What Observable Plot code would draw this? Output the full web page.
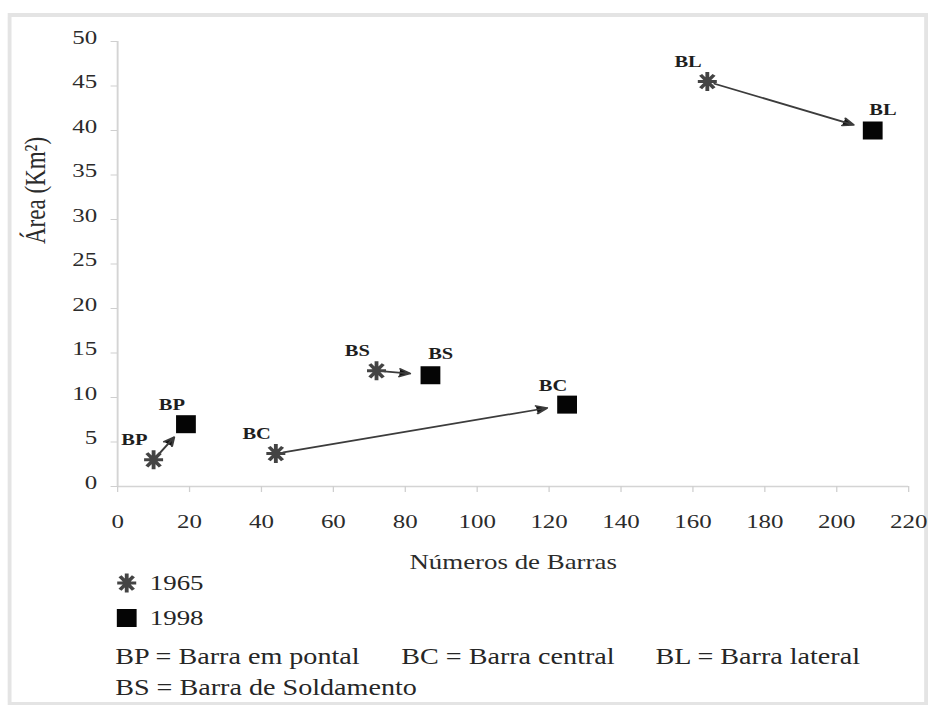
<!DOCTYPE html>
<html>
<head>
<meta charset="utf-8">
<script src="https://cdn.jsdelivr.net/npm/d3@7"></script>
<script src="https://cdn.jsdelivr.net/npm/@observablehq/plot@0.6"></script>
<style>
  html, body { margin: 0; padding: 0; background: #fff; width: 935px; height: 717px; overflow: hidden; }
  /* the whole figure is laid out on a narrower sheet and widened horizontally */
  #page { position: absolute; left: 0; top: 0; width: 730.5px; height: 717px;
          transform: scaleX(1.28); transform-origin: 0 0;
          font-family: "Liberation Serif", "Times New Roman", serif; color: #262626; }
  #frame { position: absolute; left: 6px; top: 13px; width: 719px; height: 692px;
           box-sizing: border-box; border: 3px solid #e4e4e4; border-top-width: 4px; }
  #chart { position: absolute; left: 0; top: 0; }
  .key { position: absolute; left: 88px; height: 24px; line-height: 24px; font-size: 21px; white-space: nowrap; }
  .key svg { position: absolute; left: 0; top: 0; overflow: visible; }
  .key span { position: absolute; left: 29px; top: 0; }
  .note { position: absolute; left: 90px; height: 26px; line-height: 26px; font-size: 23px; white-space: nowrap;
          transform: scaleX(0.955); transform-origin: 0 50%; }
  .note span { display: inline-block; }
</style>
</head>
<body>
<div id="page">
  <div id="frame"></div>
  <div id="chart"></div>
  <div class="key" id="key1965" style="top:571px"></div>
  <div class="key" id="key1998" style="top:606px"></div>
  <div class="note" style="top:644px"><span style="width:234px">BP = Barra em pontal</span><span style="width:208px">BC = Barra central</span><span>BL = Barra lateral</span></div>
  <div class="note" style="top:675px"><span>BS = Barra de Soldamento</span></div>
</div>
<script>
// Bar types and their count / area in the two survey years
const categories = ["BP", "BC", "BS", "BL"];
const bars1965 = [10, 44, 72, 164];
const area1965 = [3, 3.7, 13, 45.5];
const bars1998 = [19, 125, 87, 210];
const area1998 = [7, 9.2, 12.5, 40];

const xTicks = [0, 20, 40, 60, 80, 100, 120, 140, 160, 180, 200, 220];
const yTicks = [0, 5, 10, 15, 20, 25, 30, 35, 40, 45, 50];

const rows = categories.map((code, i) => ({
  code,
  x1: bars1965[i], y1: area1965[i],
  x2: bars1998[i], y2: area1998[i]
}));

// glyphs are drawn narrower so they stay square once the sheet is widened
const SX = 1 / 1.28;
const star = {
  draw(ctx, size) {
    const r = Math.sqrt(size / Math.PI);
    for (let k = 0; k < 4; ++k) {
      const a = k * Math.PI / 4;
      const dx = Math.sin(a) * r * SX, dy = Math.cos(a) * r;
      ctx.moveTo(-dx, -dy);
      ctx.lineTo(dx, dy);
    }
  }
};
const square = {
  draw(ctx, size) {
    const r = Math.sqrt(size / Math.PI);
    const w = 2 * r * SX * 1.1, h = 2 * r;
    ctx.rect(-w / 2, -h / 2, w, h);
  }
};

const labelStyle = { text: "code", fontWeight: "bold", fontSize: 16, fill: "#1e1e1e" };

const chart = Plot.plot({
  width: 730,
  height: 580,
  marginLeft: 91.4,
  marginRight: 20.6,
  marginTop: 41,
  marginBottom: 94,
  style: { fontFamily: "'Liberation Serif', 'Times New Roman', serif", fontSize: "19px", color: "#2b2b2b", background: "transparent" },
  x: { domain: [0, 220] },
  y: { domain: [0, 50] },
  marks: [
    // light axis lines
    Plot.ruleY([0], { stroke: "#d4d4d4", strokeWidth: 1.5 }),
    Plot.ruleX([0], { stroke: "#d4d4d4", strokeWidth: 1.5 }),
    Plot.axisX({ ticks: xTicks, tickSize: 6, tickPadding: 22, stroke: "#cfcfcf", fill: "#2b2b2b", fontSize: 19.5, label: null }),
    Plot.axisY({ ticks: yTicks, tickSize: 5, tickFormat: () => "", stroke: "#cfcfcf", label: null }),
    Plot.axisY({ ticks: yTicks, tickSize: 0, tickPadding: 16, dy: -4, fill: "#2b2b2b", fontSize: 19.5, label: null }),
    // axis titles
    Plot.text(["Números de Barras"], { text: d => d, frameAnchor: "bottom", dy: 82, fontSize: 21, fill: "#2b2b2b" }),
    Plot.text(["Área (Km²)"], { text: d => d, frameAnchor: "left", rotate: -90, dx: -64, dy: -20, fontSize: 23, fill: "#2b2b2b" }),
    // change from 1965 to 1998
    Plot.arrow(rows, {
      x1: "x1", y1: "y1", x2: "x2", y2: "y2",
      stroke: "#3c3c3c", fill: "#111", strokeWidth: 1.7,
      headLength: 8, headAngle: 50, insetStart: 6, insetEnd: 16
    }),
    Plot.dot(rows, { x: "x1", y: "y1", r: 9.5, symbol: star, stroke: "#444", strokeWidth: 3, fill: "none" }),
    Plot.dot(rows, { x: "x2", y: "y2", r: 9, symbol: square, fill: "#050505", stroke: "none" }),
    // bar-type labels
    Plot.text(rows, { ...labelStyle, x: "x1", y: "y1", dx: -15, dy: -20 }),
    Plot.text(rows.filter(d => d.code === "BP" || d.code === "BC"), { ...labelStyle, x: "x2", y: "y2", dx: -11, dy: -19 }),
    Plot.text(rows.filter(d => d.code === "BS" || d.code === "BL"), { ...labelStyle, x: "x2", y: "y2", dx: 8, dy: -21 })
  ]
});
document.getElementById("chart").append(chart);

// legend keys use the same glyphs as the chart
function key(id, symbol, r, paint, label) {
  const host = d3.select("#" + id);
  const svg = host.append("svg").attr("width", 22).attr("height", 24);
  const p = svg.append("path")
    .attr("transform", "translate(11,12)")
    .attr("d", d3.symbol(symbol, Math.PI * r * r)());
  paint(p);
  host.append("span").text(label);
}
key("key1965", star, 9.5, p => p.attr("fill", "none").attr("stroke", "#444").attr("stroke-width", 3), "1965");
key("key1998", square, 9, p => p.attr("fill", "#050505"), "1998");
</script>
</body>
</html>
